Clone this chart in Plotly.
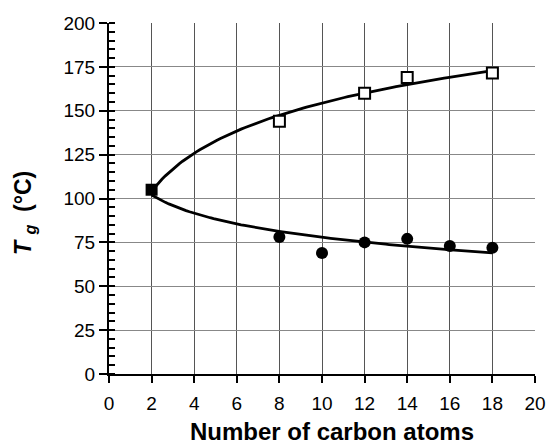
import numpy as np
import plotly.graph_objects as go

# =======================================
# Data
# =======================================
ref_x = [2]
ref_tg = [105]

upper_x = [8, 12, 14, 18]
upper_tg = [144, 160, 169, 171.5]

lower_x = [8, 10, 12, 14, 16, 18]
lower_tg = [78, 69, 75, 77, 73, 72]

x_ticks = [0, 2, 4, 6, 8, 10, 12, 14, 16, 18, 20]
y_ticks = [0, 25, 50, 75, 100, 125, 150, 175, 200]


def log_trend(xs, ys):
    """Logarithmic trendline y = a + b ln(x), like the spreadsheet fit."""
    b, a = np.polyfit(np.log(xs), ys, 1)
    x_fit = np.linspace(min(xs), max(xs), 100)
    return x_fit, a + b * np.log(x_fit)


up_fx, up_fy = log_trend(ref_x + upper_x, ref_tg + upper_tg)
lo_fx, lo_fy = log_trend(ref_x + lower_x, ref_tg + lower_tg)

fig = go.Figure()

fig.add_trace(go.Scatter(x=up_fx, y=up_fy, mode="lines",
                         line=dict(color="black", width=2.8), hoverinfo="skip"))
fig.add_trace(go.Scatter(x=lo_fx, y=lo_fy, mode="lines",
                         line=dict(color="black", width=2.8), hoverinfo="skip"))

fig.add_trace(go.Scatter(
    x=upper_x, y=upper_tg, mode="markers",
    marker=dict(symbol="square", size=11, color="white",
                line=dict(color="black", width=2)),
))
fig.add_trace(go.Scatter(
    x=lower_x, y=lower_tg, mode="markers",
    marker=dict(symbol="circle", size=12, color="black"),
))
fig.add_trace(go.Scatter(
    x=ref_x, y=ref_tg, mode="markers",
    marker=dict(symbol="square", size=12, color="black"),
))

font = "Liberation Sans, Arial, sans-serif"

fig.update_layout(
    width=547,
    height=445,
    margin=dict(l=109, r=12, t=23, b=71),
    paper_bgcolor="white",
    plot_bgcolor="white",
    showlegend=False,
    font=dict(family=font, color="black", size=19),
)

fig.update_xaxes(
    range=[0, 20],
    tickvals=x_ticks,
    ticks="outside", ticklen=7, tickwidth=2, tickcolor="black",
    ticklabelstandoff=4,
    showline=True, linecolor="black", linewidth=2,
    showgrid=True, gridcolor="#555555", gridwidth=1,
    zeroline=False,
    automargin=False,
    tickfont=dict(size=19),
)

fig.update_yaxes(
    range=[0, 200],
    tickvals=y_ticks,
    ticks="outside", ticklen=8, tickwidth=2, tickcolor="black",
    minor=dict(ticks="inside", dtick=5, ticklen=6, tickwidth=1.5,
               tickcolor="black", showgrid=False),
    showline=True, linecolor="black", linewidth=2,
    showgrid=True, gridcolor="#888888", gridwidth=1,
    zeroline=False,
    automargin=False,
    tickfont=dict(size=19),
)

# axis titles placed as annotations to sit where the reference has them
fig.add_annotation(
    text="<b>Number of carbon atoms</b>",
    xref="paper", yref="paper", x=0.523, y=-0.165,
    xanchor="center", yanchor="middle", showarrow=False,
    font=dict(size=24),
)
fig.add_annotation(
    text="<b><i>T</i> <sub><i>g</i></sub>  (°C)</b>",
    xref="paper", yref="paper", x=-0.197, y=0.459,
    xanchor="center", yanchor="middle", showarrow=False,
    textangle=-90,
    font=dict(size=23),
)

# drop the default page margin so the figure fills the window exactly
fig.write_html(
    "out.html",
    config={"displayModeBar": False},
    post_script="document.body.style.margin = '0';",
)
